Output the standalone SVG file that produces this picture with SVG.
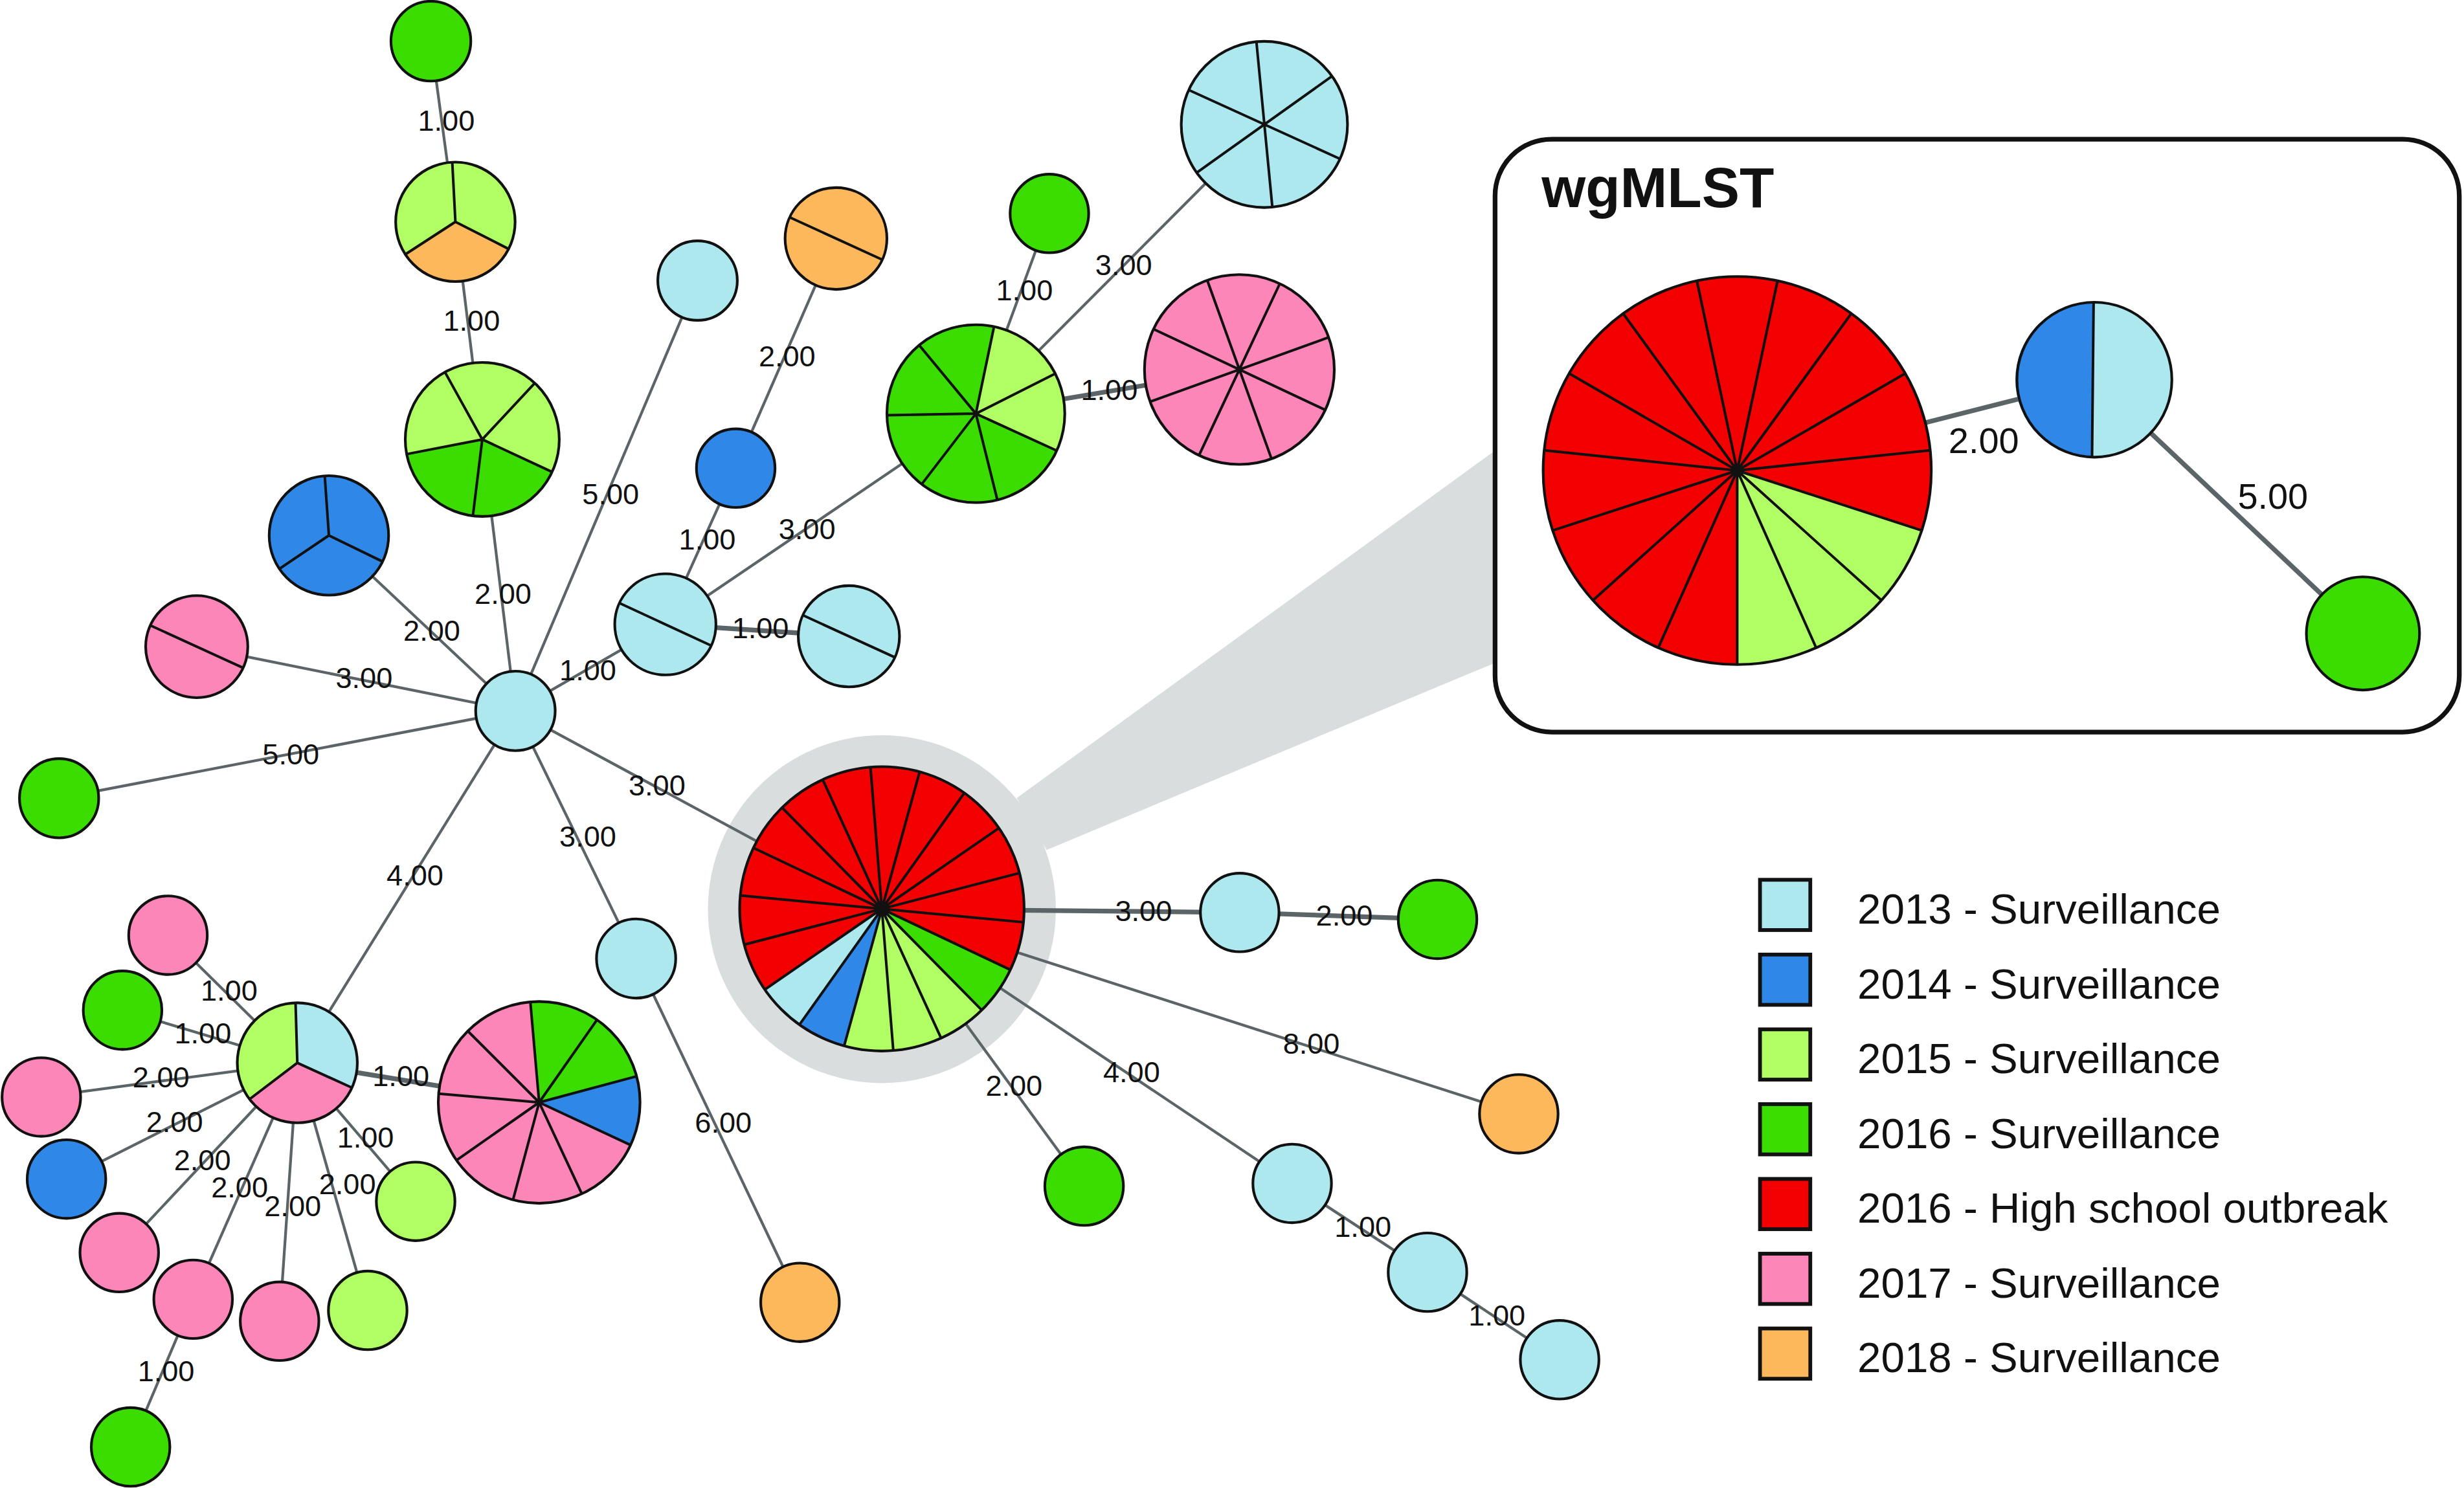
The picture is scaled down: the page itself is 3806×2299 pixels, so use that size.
<svg xmlns="http://www.w3.org/2000/svg" width="3806" height="2299" viewBox="0 0 3806 2299">
<style>
.e{stroke:#5b6466;stroke-width:1.75;fill:none;stroke-linecap:butt}
.th{stroke-width:3}
.n{stroke:#111;stroke-width:1.7}
.o{fill:none;stroke:#111;stroke-width:1.7}
.s{fill:none;stroke:#111;stroke-width:1.65}
.lb{fill:#aee8ef}.bl{fill:#2f87e8}.lg{fill:#b1fd64}.gr{fill:#3bdc00}.rd{fill:#f30000}.pk{fill:#fd86b8}.or{fill:#fdb85c}
.t{font-family:"Liberation Sans",Arial,sans-serif;font-size:18.6px;fill:#111}
.ti{font-size:23px}
.lt{font-family:"Liberation Sans",Arial,sans-serif;font-size:27px;fill:#111}
.sq{stroke:#111;stroke-width:2.4}
</style>
<rect width="3806" height="2299" fill="#fff"/>
<g transform="scale(2.4273)">
<g id="highlight">
<circle cx="561.2" cy="578.7" r="110.7" fill="#d9dddd"/>
<polygon points="647,508 980,266 980,410 666,541" fill="#d9dddd"/>
</g>
<g id="connectors">
<line class="e" x1="274.2" y1="26.2" x2="289.8" y2="141.2"/>
<line class="e" x1="289.8" y1="141.2" x2="306.9" y2="279.7"/>
<line class="e" x1="306.9" y1="279.7" x2="328" y2="452.5"/>
<line class="e" x1="209.3" y1="340.8" x2="328" y2="452.5"/>
<line class="e" x1="125.2" y1="411.6" x2="328" y2="452.5"/>
<line class="e" x1="37.6" y1="508.1" x2="328" y2="452.5"/>
<line class="e" x1="443.9" y1="178.6" x2="328" y2="452.5"/>
<line class="e" x1="423.4" y1="397.4" x2="328" y2="452.5"/>
<line class="e" x1="328" y1="452.5" x2="561.2" y2="578.5"/>
<line class="e" x1="328" y1="452.5" x2="404.8" y2="610.1"/>
<line class="e" x1="328" y1="452.5" x2="189.2" y2="676.5"/>
<line class="e" x1="404.8" y1="610.1" x2="509.1" y2="829"/>
<line class="e" x1="532" y1="151.8" x2="468.2" y2="298"/>
<line class="e" x1="468.2" y1="298" x2="423.4" y2="397.4"/>
<line class="e" x1="423.4" y1="397.4" x2="621" y2="263.3"/>
<line class="e th" x1="423.4" y1="397.4" x2="540.2" y2="405"/>
<line class="e" x1="621" y1="263.3" x2="667.8" y2="135.9"/>
<line class="e" x1="621" y1="263.3" x2="804.6" y2="79.2"/>
<line class="e th" x1="621" y1="263.3" x2="788.7" y2="235.2"/>
<line class="e" x1="189.2" y1="676.5" x2="106.9" y2="595.3"/>
<line class="e" x1="189.2" y1="676.5" x2="78" y2="643"/>
<line class="e" x1="189.2" y1="676.5" x2="26.3" y2="698.3"/>
<line class="e" x1="189.2" y1="676.5" x2="42.3" y2="750.5"/>
<line class="e" x1="189.2" y1="676.5" x2="75.9" y2="797.3"/>
<line class="e" x1="189.2" y1="676.5" x2="122.9" y2="827"/>
<line class="e" x1="189.2" y1="676.5" x2="177.9" y2="841"/>
<line class="e" x1="189.2" y1="676.5" x2="234" y2="834.1"/>
<line class="e" x1="189.2" y1="676.5" x2="264.5" y2="764.7"/>
<line class="e th" x1="189.2" y1="676.5" x2="343.1" y2="701.7"/>
<line class="e" x1="122.9" y1="827" x2="83.1" y2="921"/>
<line class="e th" x1="561.2" y1="578.5" x2="788.9" y2="580.8"/>
<line class="e th" x1="788.9" y1="580.8" x2="914.8" y2="585.2"/>
<line class="e" x1="561.2" y1="578.5" x2="966.5" y2="709"/>
<line class="e" x1="561.2" y1="578.5" x2="689.9" y2="755"/>
<line class="e" x1="561.2" y1="578.5" x2="822.3" y2="753.3"/>
<line class="e" x1="822.3" y1="753.3" x2="908.4" y2="809.8"/>
<line class="e" x1="908.4" y1="809.8" x2="992.5" y2="865.5"/>
</g>
<g id="inset">
<rect x="951.4" y="88.6" width="613.6" height="377.4" rx="36" ry="36" fill="#fff" stroke="#111" stroke-width="3"/>
<text x="981" y="132" font-family="Liberation Sans,Arial,sans-serif" font-size="36" font-weight="bold" fill="#111">wgMLST</text>
<g id="inset_connectors">
<line class="e th" x1="1105.5" y1="299.5" x2="1332.8" y2="241.7"/>
<line class="e th" x1="1332.8" y1="241.7" x2="1503.7" y2="403.2"/>
</g>
<g id="inset_outbreak">
<circle class="rd" cx="1105.5" cy="299.5" r="123.5"/>
<path class="lg" d="M1105.5,299.5 L1222.96,337.66 A123.5,123.5 0 0 1 1105.5,423 Z"/>
<path class="s" d="M1105.5,299.5L1222.96,337.66M1105.5,299.5L1197.28,382.14M1105.5,299.5L1155.73,412.32M1105.5,299.5L1105.5,423M1105.5,299.5L1055.27,412.32M1105.5,299.5L1013.72,382.14M1105.5,299.5L988.04,337.66M1105.5,299.5L982.68,286.59M1105.5,299.5L998.55,237.75M1105.5,299.5L1032.91,199.59M1105.5,299.5L1079.82,178.7M1105.5,299.5L1131.18,178.7M1105.5,299.5L1178.09,199.59M1105.5,299.5L1212.45,237.75M1105.5,299.5L1228.32,286.59"/>
<circle class="o" cx="1105.5" cy="299.5" r="123.5"/>
</g>
<g id="inset_split">
<circle class="lb" cx="1332.8" cy="241.7" r="49.3"/>
<path class="bl" d="M1332.3,192.4 A49.3,49.3 0 0 0 1331.3,291 Z"/>
<path class="s" d="M1332.3,192.4 L1331.3,291"/>
<circle class="o" cx="1332.8" cy="241.7" r="49.3"/>
</g>
<circle id="inset_green" class="gr n" cx="1503.7" cy="403.2" r="36"/>
<text class="t ti" x="1240" y="288.4">2.00</text>
<text class="t ti" x="1424" y="323.7">5.00</text>
</g>
<g id="nodes">
<circle id="n_g1" class="gr n" cx="274.2" cy="26.2" r="25.4"/>
<g id="n_p3">
<circle class="lg" cx="289.8" cy="141.2" r="38"/>
<path class="or" d="M289.8,141.2 L323.66,158.45 A38,38 0 0 1 257.93,161.89 Z"/>
<path class="s" d="M289.8,141.2L323.66,158.45M289.8,141.2L257.93,161.89M289.8,141.2L287.81,103.25"/>
<circle class="o" cx="289.8" cy="141.2" r="38"/>
</g>
<g id="n_p5">
<circle class="lg" cx="306.9" cy="279.7" r="49"/>
<path class="gr" d="M306.9,279.7 L351.31,300.41 A49,49 0 0 1 258.8,289.05 Z"/>
<path class="s" d="M306.9,279.7L351.31,300.41M306.9,279.7L300.93,328.33M306.9,279.7L258.8,289.05M306.9,279.7L283.14,236.84M306.9,279.7L340.32,243.86"/>
<circle class="o" cx="306.9" cy="279.7" r="49"/>
</g>
<g id="n_b3">
<circle class="bl" cx="209.3" cy="340.8" r="38"/>
<path class="s" d="M209.3,340.8L243.45,357.46M209.3,340.8L177.8,362.05M209.3,340.8L206.65,302.89"/>
<circle class="o" cx="209.3" cy="340.8" r="38"/>
</g>
<g id="n_pk2">
<circle class="pk" cx="125.2" cy="411.6" r="32.5"/>
<path class="s" d="M154.75,425.13L95.65,398.07"/>
<circle class="o" cx="125.2" cy="411.6" r="32.5"/>
</g>
<circle id="n_gl" class="gr n" cx="37.6" cy="508.1" r="25.2"/>
<circle id="n_hub" class="lb n" cx="328" cy="452.5" r="25.3"/>
<circle id="n_lbs" class="lb n" cx="443.9" cy="178.6" r="25.3"/>
<g id="n_or2">
<circle class="or" cx="532" cy="151.8" r="32.4"/>
<path class="s" d="M561.46,165.29L502.54,138.31"/>
<circle class="o" cx="532" cy="151.8" r="32.4"/>
</g>
<circle id="n_bls" class="bl n" cx="468.2" cy="298" r="25"/>
<g id="n_l2">
<circle class="lb" cx="423.4" cy="397.4" r="32.2"/>
<path class="s" d="M452.61,410.96L394.19,383.84"/>
<circle class="o" cx="423.4" cy="397.4" r="32.2"/>
</g>
<g id="n_lb2">
<circle class="lb" cx="540.2" cy="405" r="32.2"/>
<path class="s" d="M569.48,418.4L510.92,391.6"/>
<circle class="o" cx="540.2" cy="405" r="32.2"/>
</g>
<g id="n_gp7">
<circle class="gr" cx="621" cy="263.3" r="56.6"/>
<path class="lg" d="M621,263.3 L632.57,207.89 A56.6,56.6 0 0 1 672.46,286.86 Z"/>
<path class="s" d="M621,263.3L672.46,286.86M621,263.3L634.69,318.22M621,263.3L586.54,308.21M621,263.3L564.41,264.29M621,263.3L584.92,219.69M621,263.3L632.57,207.89M621,263.3L671.52,237.78"/>
<circle class="o" cx="621" cy="263.3" r="56.6"/>
</g>
<circle id="n_gs" class="gr n" cx="667.8" cy="135.9" r="25"/>
<g id="n_lb6">
<circle class="lb" cx="804.6" cy="79.2" r="52.9"/>
<path class="s" d="M852.74,101.14L756.46,57.26M809.67,131.86L799.53,26.54M761.53,109.92L847.67,48.48"/>
<circle class="o" cx="804.6" cy="79.2" r="52.9"/>
</g>
<g id="n_pp8">
<circle class="pk" cx="788.7" cy="235.2" r="60.4"/>
<path class="s" d="M843.35,260.92L734.05,209.48M809.16,292.03L768.24,178.37M762.98,289.85L814.42,180.55M731.87,255.66L845.53,214.74"/>
<circle class="o" cx="788.7" cy="235.2" r="60.4"/>
</g>
<g id="n_main">
<circle class="rd" cx="561.2" cy="578.5" r="90.5"/>
<path class="gr" d="M561.2,578.5 L642.95,617.32 A90.5,90.5 0 0 1 624.74,642.94 Z"/>
<path class="lg" d="M561.2,578.5 L624.74,642.94 A90.5,90.5 0 0 1 537.17,665.75 Z"/>
<path class="bl" d="M561.2,578.5 L537.17,665.75 A90.5,90.5 0 0 1 508.75,652.25 Z"/>
<path class="lb" d="M561.2,578.5 L508.75,652.25 A90.5,90.5 0 0 1 486.71,629.89 Z"/>
<path class="s" d="M651.3,587.02L471.1,569.98M642.95,617.32L479.45,539.68M624.74,642.94L497.66,514.06M598.87,660.79L523.53,496.21M568.46,668.71L553.94,488.29M537.17,665.75L585.23,491.25M508.75,652.25L613.65,504.75M486.71,629.89L635.69,527.11M473.62,601.31L648.78,555.69"/>
<circle cx="561.2" cy="578.5" r="2.2" fill="#111"/>
<circle class="o" cx="561.2" cy="578.5" r="90.5"/>
</g>
<circle id="n_lba" class="lb n" cx="404.8" cy="610.1" r="25.2"/>
<circle id="n_ora" class="or n" cx="509.1" cy="829" r="25"/>
<g id="n_hub2">
<circle class="lb" cx="189.2" cy="676.5" r="38.2"/>
<path class="pk" d="M189.2,676.5 L223.96,692.34 A38.2,38.2 0 0 1 158.81,699.65 Z"/>
<path class="lg" d="M189.2,676.5 L158.81,699.65 A38.2,38.2 0 0 1 188.07,638.32 Z"/>
<path class="s" d="M189.2,676.5L223.96,692.34M189.2,676.5L158.81,699.65M189.2,676.5L188.07,638.32"/>
<circle class="o" cx="189.2" cy="676.5" r="38.2"/>
</g>
<g id="n_pp9">
<circle class="pk" cx="343.1" cy="701.7" r="64.2"/>
<path class="gr" d="M343.1,701.7 L337.5,637.74 A64.2,64.2 0 0 1 405.11,685.08 Z"/>
<path class="bl" d="M343.1,701.7 L405.11,685.08 A64.2,64.2 0 0 1 401.28,728.83 Z"/>
<path class="s" d="M343.1,701.7L337.5,637.74M343.1,701.7L379.92,649.11M343.1,701.7L405.11,685.08M343.1,701.7L401.28,728.83M343.1,701.7L370.23,759.88M343.1,701.7L326.48,763.71M343.1,701.7L290.51,738.52M343.1,701.7L279.14,696.1M343.1,701.7L297.7,656.3"/>
<circle class="o" cx="343.1" cy="701.7" r="64.2"/>
</g>
<circle id="n_pk1" class="pk n" cx="106.9" cy="595.3" r="25"/>
<circle id="n_gr1" class="gr n" cx="78" cy="643" r="25"/>
<circle id="n_pk2b" class="pk n" cx="26.3" cy="698.3" r="25"/>
<circle id="n_bl1" class="bl n" cx="42.3" cy="750.5" r="25"/>
<circle id="n_pk3" class="pk n" cx="75.9" cy="797.3" r="25"/>
<circle id="n_pk4" class="pk n" cx="122.9" cy="827" r="25"/>
<circle id="n_pk5" class="pk n" cx="177.9" cy="841" r="25"/>
<circle id="n_lg1" class="lg n" cx="234" cy="834.1" r="25"/>
<circle id="n_lg2" class="lg n" cx="264.5" cy="764.7" r="25"/>
<circle id="n_gr2" class="gr n" cx="83.1" cy="921" r="25"/>
<circle id="n_r1" class="lb n" cx="788.9" cy="580.8" r="25"/>
<circle id="n_r2" class="gr n" cx="914.8" cy="585.2" r="25"/>
<circle id="n_r3" class="or n" cx="966.5" cy="709" r="25"/>
<circle id="n_r4" class="gr n" cx="689.9" cy="755" r="25"/>
<circle id="n_r5" class="lb n" cx="822.3" cy="753.3" r="25"/>
<circle id="n_r6" class="lb n" cx="908.4" cy="809.8" r="25"/>
<circle id="n_r7" class="lb n" cx="992.5" cy="865.5" r="25"/>
</g>
<g id="edge_labels">
<text class="t" x="265.9" y="83.1">1.00</text>
<text class="t" x="282" y="210.6">1.00</text>
<text class="t" x="370.5" y="321">5.00</text>
<text class="t" x="302" y="384.3">2.00</text>
<text class="t" x="256.7" y="407.9">2.00</text>
<text class="t" x="213.6" y="438">3.00</text>
<text class="t" x="356" y="433">1.00</text>
<text class="t" x="167" y="486.5">5.00</text>
<text class="t" x="400" y="506.4">3.00</text>
<text class="t" x="356" y="538.7">3.00</text>
<text class="t" x="246" y="563.5">4.00</text>
<text class="t" x="127.7" y="636.8">1.00</text>
<text class="t" x="111" y="664">1.00</text>
<text class="t" x="84.4" y="692">2.00</text>
<text class="t" x="93" y="720.7">2.00</text>
<text class="t" x="110.7" y="744.9">2.00</text>
<text class="t" x="134.4" y="762.1">2.00</text>
<text class="t" x="168.2" y="774.2">2.00</text>
<text class="t" x="203" y="760">2.00</text>
<text class="t" x="214.5" y="730.4">1.00</text>
<text class="t" x="237" y="691.2">1.00</text>
<text class="t" x="87.6" y="879.2">1.00</text>
<text class="t" x="442.2" y="721">6.00</text>
<text class="t" x="482.8" y="233.3">2.00</text>
<text class="t" x="432" y="349.6">1.00</text>
<text class="t" x="495.5" y="343">3.00</text>
<text class="t" x="465.8" y="406.4">1.00</text>
<text class="t" x="633.8" y="191">1.00</text>
<text class="t" x="697" y="175.2">3.00</text>
<text class="t" x="687.8" y="254.7">1.00</text>
<text class="t" x="709.6" y="586.1">3.00</text>
<text class="t" x="837.4" y="589.3">2.00</text>
<text class="t" x="816.4" y="670.5">8.00</text>
<text class="t" x="702" y="688.8">4.00</text>
<text class="t" x="627.2" y="697.3">2.00</text>
<text class="t" x="849.2" y="787.1">1.00</text>
<text class="t" x="934.5" y="843.8">1.00</text>
</g>
<g id="legend">
<rect class="sq lb" x="1120" y="560" width="32" height="32"/>
<rect class="sq bl" x="1120" y="607.6" width="32" height="32"/>
<rect class="sq lg" x="1120" y="655.2" width="32" height="32"/>
<rect class="sq gr" x="1120" y="702.8" width="32" height="32"/>
<rect class="sq rd" x="1120" y="750.4" width="32" height="32"/>
<rect class="sq pk" x="1120" y="798" width="32" height="32"/>
<rect class="sq or" x="1120" y="845.6" width="32" height="32"/>
<text class="lt" x="1182" y="588">2013 - Surveillance</text>
<text class="lt" x="1182" y="635.6">2014 - Surveillance</text>
<text class="lt" x="1182" y="683.2">2015 - Surveillance</text>
<text class="lt" x="1182" y="730.8">2016 - Surveillance</text>
<text class="lt" x="1182" y="778.4">2016 - High school outbreak</text>
<text class="lt" x="1182" y="826">2017 - Surveillance</text>
<text class="lt" x="1182" y="873.6">2018 - Surveillance</text>
</g>
</g>
</svg>
